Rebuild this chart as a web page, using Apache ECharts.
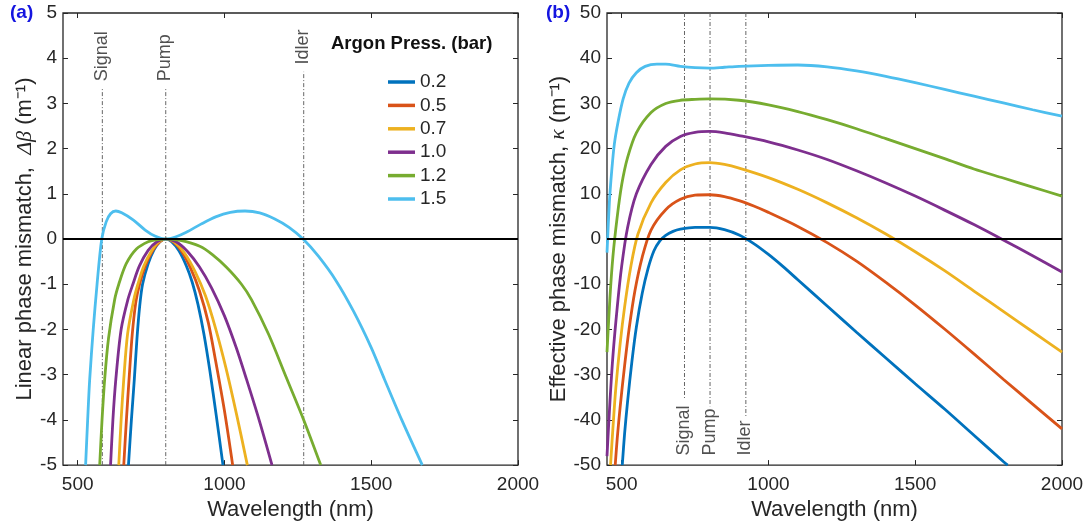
<!DOCTYPE html>
<html><head><meta charset="utf-8">
<script src="https://cdn.jsdelivr.net/npm/echarts@6/dist/echarts.min.js"></script>
<style>html,body{margin:0;padding:0;background:#fff}#c{width:1090px;height:526px}</style>
</head><body><div id="c"></div>
<script>
const FONT = 'Liberation Sans, Arial, Helvetica, sans-serif';
const pressures = ['0.2', '0.5', '0.7', '1.0', '1.2', '1.5'];
const colors = ['#0072BD', '#D95319', '#EDB120', '#7E2F8E', '#77AC30', '#4DBEEE'];
const xTicks = [500, 1000, 1500, 2000];

// Panel (a): linear phase mismatch [wavelength nm, Δβ m^-1]
const dbeta02 = [[673,-5],[683,-4],[693,-3.1],[702,-2.2],[711,-1.5],[721,-1.0],[740,-0.55],[760,-0.24],[780,-0.06],[800,0],[820,-0.06],[845,-0.26],[870,-0.59],[890,-0.95],[910,-1.45],[930,-2.1],[950,-2.9],[972,-3.9],[995,-5]];
const dbeta05 = [[657,-5],[666,-4],[675,-3.1],[686,-2.1],[698,-1.4],[711,-1.0],[730,-0.6],[755,-0.26],[780,-0.06],[800,0],[825,-0.06],[855,-0.28],[885,-0.65],[915,-1.15],[945,-1.85],[970,-2.7],[1000,-3.8],[1028,-5]];
const dbeta07 = [[640,-5],[648,-4],[657,-3.1],[670,-2.1],[691,-1.35],[705,-1.0],[725,-0.6],[750,-0.28],[775,-0.07],[800,0],[830,-0.07],[865,-0.32],[900,-0.72],[935,-1.25],[970,-1.98],[1005,-2.85],[1042,-3.9],[1078,-5]];
const dbeta10 = [[612,-5],[620,-4],[630,-3.1],[648,-2.0],[671,-1.34],[688,-1.0],[710,-0.6],[740,-0.25],[770,-0.06],[800,0],[835,-0.06],[875,-0.28],[915,-0.62],[956,-1.08],[1000,-1.7],[1040,-2.4],[1075,-3.1],[1118,-4],[1162,-5]];
const dbeta12 = [[575,-5],[583,-4],[592,-3.1],[605,-2.2],[626,-1.34],[640,-1.0],[665,-0.55],[700,-0.22],[740,-0.06],[770,-0.01],[800,0],[850,-0.03],[916,-0.16],[960,-0.35],[1006,-0.62],[1058,-1.0],[1092,-1.34],[1150,-2.1],[1210,-3.05],[1270,-4],[1328,-5]];
const dbeta15 = [[527,-5],[534,-4],[541,-3.1],[553,-2],[566,-1],[582,0],[597,0.38],[612,0.56],[630,0.62],[650,0.58],[690,0.42],[730,0.2],[765,0.06],[800,0],[835,0.05],[870,0.15],[920,0.33],[970,0.49],[1020,0.59],[1070,0.62],[1120,0.58],[1170,0.45],[1220,0.26],[1268,0],[1320,-0.38],[1380,-0.92],[1440,-1.6],[1500,-2.4],[1545,-3.1],[1604,-4],[1674,-5]];

// Panel (b): effective phase mismatch [wavelength nm, κ m^-1]
const kappa02 = [[502,-50],[510,-43],[520,-36],[535,-27],[550,-19.5],[570,-12],[590,-6.5],[610,-2.6],[630,-0.4],[650,0.8],[675,1.7],[700,2.2],[750,2.6],[800,2.6],[850,2.1],[900,0.9],[950,-1.0],[1000,-3.4],[1050,-6.1],[1100,-9.0],[1200,-14.8],[1300,-20.6],[1400,-26.3],[1500,-32],[1600,-37.6],[1700,-43.4],[1800,-49.2],[1815,-50]];
const kappa05 = [[478,-50],[485,-44],[495,-37],[510,-28],[525,-20],[545,-11.5],[570,-4],[600,2],[650,6.5],[700,8.8],[750,9.7],[800,9.8],[850,9.4],[900,8.5],[950,7.3],[1000,5.9],[1100,2.8],[1200,-0.8],[1300,-4.9],[1400,-9.6],[1500,-14.6],[1600,-19.9],[1700,-25.4],[1800,-31],[1900,-36.5],[2000,-42]];
const kappa07 = [[462,-50],[470,-42],[480,-33],[495,-23],[510,-15],[530,-6.5],[555,1],[600,8],[650,12.5],[700,15.3],[750,16.6],[800,16.9],[850,16.5],[900,15.7],[1000,13.6],[1100,11.0],[1200,8.0],[1300,4.7],[1400,1.1],[1500,-2.8],[1600,-7.0],[1700,-11.5],[1800,-16],[1900,-20.5],[2000,-25]];
const kappa10 = [[450,-48],[460,-36],[470,-26],[485,-15],[500,-6],[520,2.5],[550,10],[600,16.5],[650,20.5],[700,22.7],[750,23.6],[800,23.8],[850,23.5],[900,22.9],[1000,21.5],[1100,19.7],[1200,17.6],[1300,15.1],[1400,12.4],[1500,9.5],[1600,6.4],[1700,3.2],[1800,-0.2],[1900,-3.7],[2000,-7.3]];
const kappa12 = [[450,-25],[460,-13],[470,-4],[485,5],[500,12],[520,18],[550,23.5],[600,28],[650,30],[700,30.7],[750,30.9],[800,31],[900,30.7],[1000,29.7],[1100,28.2],[1200,26.4],[1300,24.4],[1400,22.2],[1500,20],[1600,17.8],[1700,15.5],[1800,13.5],[1900,11.5],[2000,9.5]];
const kappa15 = [[450,-3],[458,8],[466,15],[475,21],[488,26],[505,31],[525,34.5],[550,36.8],[580,38.2],[620,38.7],[650,38.7],[700,38.2],[750,37.9],[800,37.8],[850,38.0],[900,38.2],[1000,38.4],[1100,38.5],[1200,38.1],[1300,37.2],[1400,36.0],[1500,34.6],[1600,33.1],[1700,31.6],[1800,30.1],[1900,28.6],[2000,27.2]];

const markerNames = ['Signal', 'Pump', 'Idler'];
const markerLambdaA = [584, 800, 1270];
const markerLineTopA = [3.32, 3.35, 3.7];
const markerTextA = [3.48, 3.48, 3.85];
const markerLambdaB = [714, 801, 923];
const markerLineEndB = [-35.4, -37, -39.2];
const markerTextB = -48;

const dbetaSets = [dbeta02, dbeta05, dbeta07, dbeta10, dbeta12, dbeta15];
const kappaSets = [kappa02, kappa05, kappa07, kappa10, kappa12, kappa15];

const chart = echarts.init(document.getElementById('c'), null, {renderer: 'canvas'});
const TXT = '#262626';

function xAx(grid, pos, labels, name) {
  return {
    type: 'value', gridIndex: grid, position: pos, min: 450, max: 2000,
    axisLine: {show: false, onZero: false},
    axisTick: {show: true, inside: true, length: 5, customValues: xTicks, lineStyle: {color: TXT, width: 1}},
    axisLabel: {show: labels, customValues: xTicks, margin: 10, fontSize: 19, color: TXT, fontFamily: FONT,
      formatter: (v) => String(v)},
    splitLine: {show: false},
    name: name || '', nameLocation: 'middle', nameGap: 31,
    nameTextStyle: {fontSize: 22, color: TXT, fontFamily: FONT}
  };
}
function yAx(grid, pos, labels, min, max, interval, name, gap) {
  return {
    type: 'value', gridIndex: grid, position: pos, min: min, max: max, interval: interval,
    axisLine: {show: false, onZero: false},
    axisTick: {show: true, inside: true, length: 5, lineStyle: {color: TXT, width: 1}},
    axisLabel: {show: labels, margin: 6, fontSize: 19, color: TXT, fontFamily: FONT, formatter: (v) => String(v)},
    splitLine: {show: false},
    name: name || '', nameLocation: 'middle', nameGap: gap || 0,
    nameTextStyle: {fontSize: 22, color: TXT, fontFamily: FONT,
      rich: {i: {fontSize: 22, fontStyle: 'italic', fontFamily: 'Liberation Serif, serif', color: TXT}}}
  };
}

const series = [];
function curveSeries(data, i, xi, yi) {
  return {
    type: 'line', name: pressures[i], data: data, xAxisIndex: xi, yAxisIndex: yi,
    showSymbol: false, symbol: 'none', smooth: 0.3, clip: true,
    lineStyle: {color: colors[i], width: 2.8}, itemStyle: {color: colors[i]}, z: 3
  };
}
dbetaSets.forEach((d, i) => series.push(curveSeries(d, i, 0, 0)));
kappaSets.forEach((d, i) => series.push(curveSeries(d, i, 2, 2)));

// zero lines
[[0, 0], [2, 2]].forEach(([xi, yi]) => {
  series.push({type: 'line', data: [], xAxisIndex: xi, yAxisIndex: yi, z: 5, silent: true,
    markLine: {silent: true, symbol: 'none', label: {show: false},
      lineStyle: {color: '#000', width: 2, type: 'solid'}, data: [{yAxis: 0}]}});
});

const dashType = [4, 2, 1, 2];
markerLambdaA.forEach((x, i) => {
  series.push({type: 'line', xAxisIndex: 0, yAxisIndex: 0, symbol: 'none', silent: true, z: 2,
    data: [[x, -5], [x, markerLineTopA[i]]], lineStyle: {color: '#666', width: 1, type: dashType}});
});
markerLambdaB.forEach((x, i) => {
  series.push({type: 'line', xAxisIndex: 2, yAxisIndex: 2, symbol: 'none', silent: true, z: 2,
    data: [[x, 50], [x, markerLineEndB[i]]], lineStyle: {color: '#666', width: 1, type: dashType}});
});
function labelSeries(xi, yi, pts) {
  return {type: 'scatter', xAxisIndex: xi, yAxisIndex: yi, symbolSize: 1, silent: true, z: 6,
    itemStyle: {color: 'rgba(0,0,0,0)'},
    data: pts.map((p, i) => ({value: p, label: {formatter: markerNames[i]}})),
    label: {show: true, rotate: 90, position: [0, 0], align: 'left', verticalAlign: 'middle',
      fontSize: 18, color: TXT, fontFamily: FONT}};
}
series.push(labelSeries(0, 0, markerLambdaA.map((x, i) => [x, markerTextA[i]])));
series.push(labelSeries(2, 2, markerLambdaB.map((x) => [x, markerTextB])));

const option = {
  animation: false,
  backgroundColor: '#fff',
  grid: [
    {left: 63, top: 13, width: 455, height: 453, show: true, borderColor: '#262626', borderWidth: 1.3, backgroundColor: 'transparent'},
    {left: 607, top: 13, width: 455, height: 453, show: true, borderColor: '#262626', borderWidth: 1.3, backgroundColor: 'transparent'}
  ],
  xAxis: [xAx(0, 'bottom', true, 'Wavelength (nm)'), xAx(0, 'top', false), xAx(1, 'bottom', true, 'Wavelength (nm)'), xAx(1, 'top', false)],
  yAxis: [
    yAx(0, 'left', true, -5, 5, 1, 'Linear phase mismatch,  {i|Δβ} (m⁻¹)', 27),
    yAx(0, 'right', false, -5, 5, 1),
    yAx(1, 'left', true, -50, 50, 10, 'Effective phase mismatch, {i|κ} (m⁻¹)', 30),
    yAx(1, 'right', false, -50, 50, 10)
  ],
  legend: {data: pressures, orient: 'vertical', left: 383, top: 67, icon: 'rect',
    itemWidth: 27, itemHeight: 3.5, itemGap: 3.4, selectedMode: false,
    textStyle: {fontSize: 19, lineHeight: 20, color: TXT, fontFamily: FONT}},
  graphic: [
    {type: 'text', left: 10, top: 3, style: {text: '(a)', fontSize: 19, fontWeight: 'bold', fill: '#1515e0', fontFamily: FONT}},
    {type: 'text', left: 546, top: 3, style: {text: '(b)', fontSize: 19, fontWeight: 'bold', fill: '#1515e0', fontFamily: FONT}},
    {type: 'text', left: 331, top: 34, style: {text: 'Argon Press. (bar)', fontSize: 18.5, fontWeight: 'bold', fill: '#111', fontFamily: FONT}}
  ],
  series: series
};
chart.setOption(option);
</script></body></html>
